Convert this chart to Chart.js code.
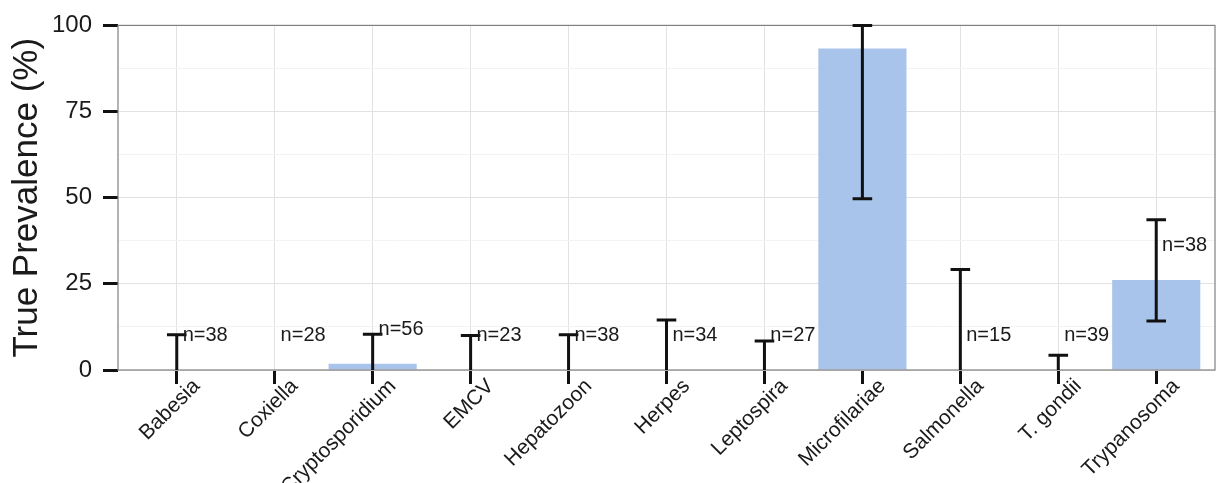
<!DOCTYPE html>
<html>
<head>
<meta charset="utf-8">
<script src="https://cdn.jsdelivr.net/npm/chart.js@4"></script>
<style>
  body { margin: 0; background: #fff; }
</style>
</head>
<body>
<canvas id="prevalenceChart" width="1231" height="483"></canvas>
<script>
const pathogens = ["Babesia", "Coxiella", "Cryptosporidium", "EMCV", "Hepatozoon", "Herpes", "Leptospira", "Microfilariae", "Salmonella", "T. gondii", "Trypanosoma"];
const prevalence = [0, 0, 1.8, 0, 0, 0, 0, 93.3, 0, 0, 26.1];
const lowerCI = [0, 0, 0, 0, 0, 0, 0, 49.7, 0, 0, 14.2];
const upperCI = [10.2, 0, 10.4, 10, 10.2, 14.5, 8.4, 100, 29.2, 4.3, 43.6];
const sampleSize = [38, 28, 56, 23, 38, 34, 27, null, 15, 39, 38];
const yTicks = [0, 12.5, 25, 37.5, 50, 62.5, 75, 87.5, 100];

const fontFamily = "'Liberation Sans', Arial, sans-serif";
const majorGrid = "#e2e2e2";
const minorGrid = "#f3f3f3";

// panel border, error bars and n= labels
const extras = {
  id: "extras",
  afterDatasetsDraw(chart) {
    const { ctx, chartArea, scales: { x, y } } = chart;
    ctx.save();
    ctx.strokeStyle = "#808080";
    ctx.lineWidth = 1.2;
    ctx.strokeRect(chartArea.left, chartArea.top, chartArea.right - chartArea.left, chartArea.bottom - chartArea.top);

    ctx.strokeStyle = "#111";
    ctx.lineWidth = 3;
    const half = x.getPixelForValue(1.1) - x.getPixelForValue(1);
    pathogens.forEach((p, i) => {
      const px = x.getPixelForValue(i + 1);
      const top = y.getPixelForValue(upperCI[i]);
      const bot = y.getPixelForValue(lowerCI[i]);
      ctx.beginPath();
      ctx.moveTo(px, bot);
      ctx.lineTo(px, top);
      if (upperCI[i] > 0) {
        ctx.moveTo(px - half, top);
        ctx.lineTo(px + half, top);
      }
      if (lowerCI[i] > 0) {
        ctx.moveTo(px - half, bot);
        ctx.lineTo(px + half, bot);
      }
      ctx.stroke();
    });

    ctx.font = "20px " + fontFamily;
    ctx.fillStyle = "#1a1a1a";
    ctx.textAlign = "left";
    ctx.textBaseline = "middle";
    sampleSize.forEach((n, i) => {
      if (n === null) return;
      ctx.fillText("n=" + n, x.getPixelForValue(i + 1.06), y.getPixelForValue(prevalence[i] + 10));
    });
    ctx.restore();
  }
};

const chartCtx = document.getElementById("prevalenceChart").getContext("2d");
const prevalenceChart = new Chart(chartCtx, {
  type: "bar",
  data: {
    datasets: [
      {
        label: "True Prevalence",
        data: prevalence.map((v, i) => ({ x: i + 1, y: v })),
        backgroundColor: "#a9c4ea",
        borderWidth: 0,
        barPercentage: 0.9,
        categoryPercentage: 1,
      },
    ],
  },
  options: {
    responsive: false,
    animation: false,
    devicePixelRatio: 1,
    layout: { padding: { top: 24, right: 16, left: 0, bottom: 0 } },
    plugins: { legend: { display: false }, tooltip: { enabled: false } },
    scales: {
      x: {
        type: "linear",
        min: 0.4,
        max: 11.6,
        offset: false,
        afterBuildTicks: (scale) => {
          scale.ticks = pathogens.map((p, i) => ({ value: i + 1 }));
        },
        afterFit: (scale) => {
          scale.height = 113;
        },
        ticks: {
          autoSkip: false,
          minRotation: 45,
          maxRotation: 45,
          padding: -10,
          labelOffset: 20,
          color: "#1a1a1a",
          font: { family: fontFamily, size: 21 },
          callback: (v) => pathogens[Math.round(v) - 1],
        },
        grid: {
          offset: false,
          color: majorGrid,
          tickColor: "#111",
          tickWidth: 3,
          tickLength: 14,
        },
        border: { display: false },
      },
      y: {
        min: 0,
        max: 100,
        afterBuildTicks: (scale) => {
          scale.ticks = yTicks.map((v) => ({ value: v }));
        },
        afterFit: (scale) => {
          scale.width = 118;
        },
        ticks: {
          padding: 11,
          color: "#1a1a1a",
          font: { family: fontFamily, size: 24 },
          callback: (v) => (v % 25 === 0 ? v : ""),
        },
        grid: {
          color: (c) => (c.tick && c.tick.value % 25 === 0 ? majorGrid : minorGrid),
          tickColor: (c) => (c.tick && c.tick.value % 25 === 0 ? "#111" : "rgba(0,0,0,0)"),
          tickWidth: 3,
          tickLength: 15,
        },
        border: { display: false },
        title: {
          display: true,
          text: "True Prevalence (%)",
          color: "#1a1a1a",
          font: { family: fontFamily, size: 35 },
          padding: { top: 6, bottom: 0 },
        },
      },
    },
  },
  plugins: [extras],
});
</script>
</body>
</html>
